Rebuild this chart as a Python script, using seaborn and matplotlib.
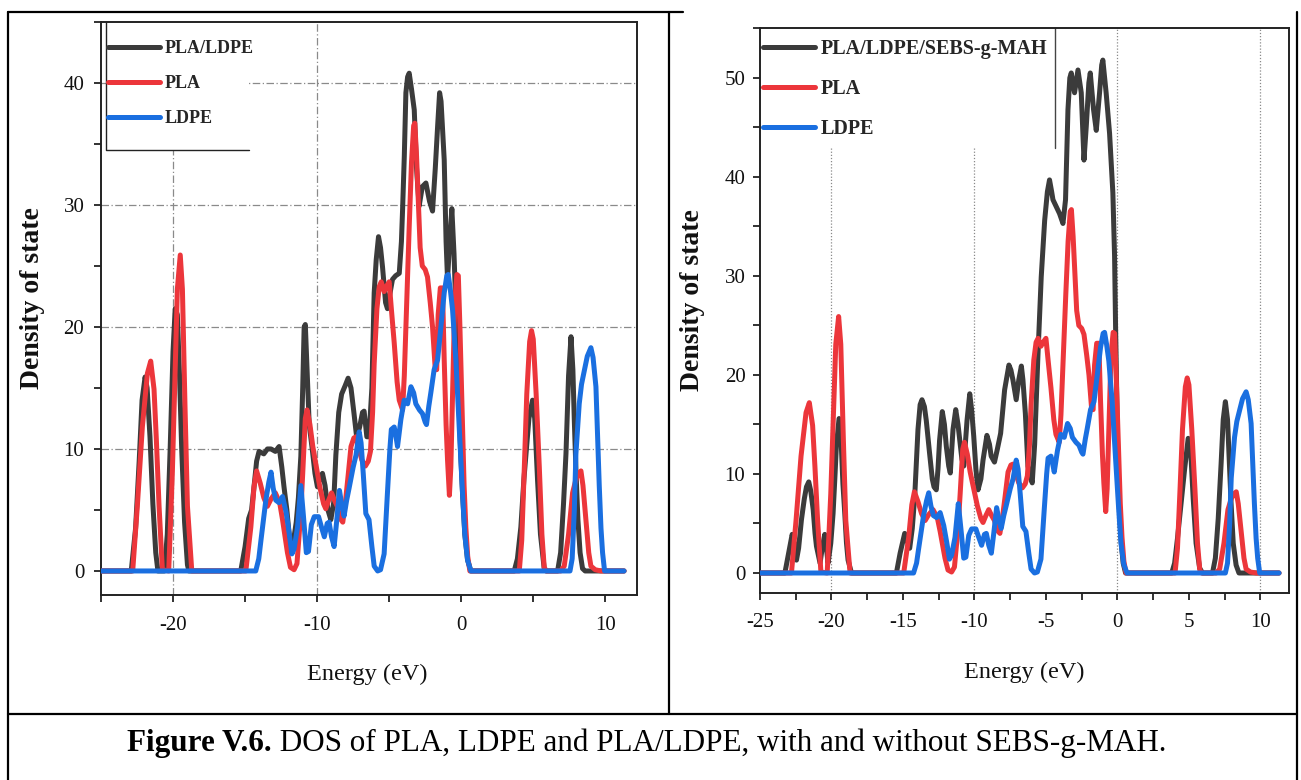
import matplotlib
matplotlib.use("Agg")
import matplotlib.pyplot as plt
from matplotlib.lines import Line2D
from matplotlib.patches import Rectangle
from matplotlib.ticker import MultipleLocator
import pandas as pd
import seaborn as sns

# ---------------------------------------------------------------- data
# Density of states, (energy in eV, DOS) pairs for each system
pla_points = [
    (-25.0, 0), (-22.8, 0), (-22.48, 5.3), (-22.13, 11.8), (-21.78, 16.2), (-21.55, 17.2),
    (-21.32, 14.9), (-21.16, 10.8), (-20.97, 5.3), (-20.74, 0.1), (-20.3, 0),
    (-20.05, 8.0), (-19.86, 16.2), (-19.7, 23.1), (-19.5, 25.9), (-19.35, 23.1),
    (-19.17, 13.5), (-19.0, 5.3), (-18.7, 0), (-14.95, 0), (-14.6, 3.6), (-14.38, 6.9),
    (-14.2, 8.2), (-13.95, 7.2), (-13.7, 6.0), (-13.45, 5.3), (-13.2, 5.9), (-12.9, 6.4),
    (-12.6, 5.6), (-12.4, 4.2), (-12.06, 1.5), (-11.85, 0.3), (-11.6, 0.1), (-11.4, 0.6),
    (-11.15, 4.5), (-11.0, 8.0), (-10.82, 12.5), (-10.7, 13.2), (-10.5, 12.0), (-10.3, 10.2),
    (-10.05, 8.5), (-9.8, 6.8), (-9.55, 5.5), (-9.4, 5.1), (-9.2, 5.8), (-9.0, 6.4),
    (-8.8, 5.8), (-8.6, 5.3), (-8.4, 4.3), (-8.22, 4.0), (-8.05, 5.5), (-7.85, 7.8),
    (-7.65, 10.2), (-7.45, 10.9), (-7.3, 11.0), (-7.1, 10.0), (-6.9, 9.1), (-6.65, 8.6),
    (-6.45, 9.0), (-6.3, 9.8), (-6.15, 13.0), (-6.04, 17.0), (-5.85, 21.5), (-5.69, 23.3),
    (-5.55, 23.7), (-5.35, 22.9), (-5.15, 23.4), (-5.0, 23.7), (-4.85, 21.5), (-4.65, 18.7),
    (-4.45, 15.5), (-4.3, 14.0), (-4.07, 13.2), (-3.95, 16.0), (-3.84, 20.0), (-3.72, 24.5),
    (-3.61, 28.2), (-3.45, 33.5), (-3.3, 36.5), (-3.22, 36.7), (-3.1, 34.0), (-3.0, 31.0),
    (-2.85, 26.5), (-2.7, 25.0), (-2.5, 24.7), (-2.34, 24.1), (-2.15, 22.0), (-1.99, 20.0),
    (-1.8, 16.5), (-1.7, 16.5), (-1.6, 21.0), (-1.45, 23.2), (-1.3, 23.2), (-1.18, 17.3),
    (-1.05, 12.0), (-0.95, 9.1), (-0.82, 6.2), (-0.72, 8.5), (-0.6, 14.6), (-0.45, 22.0),
    (-0.3, 24.3), (-0.2, 24.2), (-0.09, 20.0), (0.09, 11.8), (0.2, 7.0), (0.32, 3.6),
    (0.45, 1.2), (0.6, 0), (4.03, 0), (4.2, 2.5), (4.38, 8.5), (4.55, 14.5), (4.75, 18.8),
    (4.88, 19.7), (5.0, 19.0), (5.2, 14.5), (5.42, 8.5), (5.6, 3.0), (5.76, 0.3), (5.9, 0),
    (6.9, 0), (7.15, 0.4), (7.45, 3.0), (7.73, 6.4), (7.96, 7.5), (8.15, 8.0), (8.31, 8.2),
    (8.45, 7.0), (8.66, 4.1), (8.85, 1.5), (9.0, 0.4), (9.3, 0.1), (9.7, 0), (11.3, 0),
]

ldpe_points = [
    (-25.0, 0), (-14.26, 0), (-14.05, 1.0), (-13.9, 2.5), (-13.56, 5.8), (-13.35, 7.3),
    (-13.2, 8.1), (-13.05, 6.8), (-12.87, 5.8), (-12.65, 5.6), (-12.4, 6.1), (-12.15, 4.8),
    (-11.94, 3.1), (-11.75, 1.4), (-11.6, 1.8), (-11.36, 3.6), (-11.13, 7.0), (-10.95, 4.5),
    (-10.75, 1.5), (-10.6, 1.6), (-10.4, 3.8), (-10.2, 4.45), (-9.9, 4.45), (-9.7, 3.6),
    (-9.5, 2.8), (-9.3, 3.9), (-9.17, 4.0), (-9.0, 2.8), (-8.82, 2.0), (-8.65, 4.0),
    (-8.45, 6.6), (-8.3, 5.5), (-8.13, 4.5), (-7.95, 5.8), (-7.78, 6.8), (-7.5, 8.5),
    (-7.3, 9.5), (-7.08, 11.4), (-6.95, 10.5), (-6.8, 8.0), (-6.62, 4.7), (-6.4, 4.2),
    (-6.2, 2.0), (-6.04, 0.4), (-5.8, 0.0), (-5.6, 0.1), (-5.35, 1.4), (-5.12, 6.4),
    (-4.95, 10.0), (-4.85, 11.6), (-4.65, 11.8), (-4.5, 10.8), (-4.42, 10.2), (-4.19, 12.4),
    (-3.96, 14.0), (-3.72, 13.7), (-3.49, 15.1), (-3.3, 14.6), (-3.15, 13.7), (-2.9, 13.2),
    (-2.69, 12.9), (-2.5, 12.2), (-2.41, 12.0), (-2.25, 13.5), (-2.11, 14.6), (-1.88, 16.5),
    (-1.64, 17.3), (-1.41, 20.0), (-1.18, 22.8), (-1.0, 24.2), (-0.9, 24.3), (-0.75, 23.0),
    (-0.6, 21.4), (-0.37, 17.3), (-0.14, 11.8), (0.09, 6.4), (0.25, 3.0), (0.44, 0.9),
    (0.67, 0), (7.55, 0), (7.7, 1.0), (7.85, 5.0), (7.96, 9.6), (8.19, 13.7), (8.35, 15.3),
    (8.54, 16.4), (8.75, 17.6), (9.0, 18.3), (9.15, 17.5), (9.35, 15.1), (9.58, 7.0),
    (9.7, 3.5), (9.81, 1.5), (9.95, 0), (11.3, 0),
]

blend_points = [
    (-25.0, 0), (-22.9, 0), (-22.6, 3.5), (-22.35, 9.0), (-22.15, 14.0), (-21.94, 15.9),
    (-21.8, 15.0), (-21.6, 11.0), (-21.4, 5.5), (-21.2, 1.5), (-21.05, 0), (-20.6, 0),
    (-20.4, 3.0), (-20.2, 10.0), (-20.0, 18.0), (-19.85, 21.5), (-19.7, 21.0), (-19.55, 16.0),
    (-19.4, 10.0), (-19.2, 4.0), (-19.0, 0.5), (-18.9, 0), (-15.3, 0), (-15.0, 2.0),
    (-14.75, 4.3), (-14.55, 5.0), (-14.38, 6.9), (-14.2, 9.0), (-14.03, 9.8), (-13.7, 9.6),
    (-13.45, 10.0), (-13.2, 10.0), (-12.9, 9.8), (-12.64, 10.2), (-12.45, 8.5), (-12.3, 6.9),
    (-12.1, 5.0), (-11.94, 3.0), (-11.8, 1.6), (-11.6, 2.8), (-11.45, 4.0), (-11.3, 6.0),
    (-11.13, 9.4), (-11.0, 15.0), (-10.9, 20.0), (-10.82, 20.2), (-10.7, 16.5), (-10.55, 12.0),
    (-10.33, 9.9), (-10.15, 8.0), (-9.98, 6.9), (-9.8, 7.6), (-9.63, 8.0), (-9.45, 7.0),
    (-9.25, 5.0), (-9.05, 4.2), (-8.85, 5.6), (-8.7, 9.5), (-8.5, 13.0), (-8.3, 14.5),
    (-8.05, 15.2), (-7.85, 15.8), (-7.65, 15.0), (-7.45, 13.0), (-7.25, 10.9), (-7.05, 11.8),
    (-6.85, 13.0), (-6.74, 13.1), (-6.55, 11.0), (-6.4, 11.0), (-6.2, 15.0), (-6.04, 22.8),
    (-5.9, 25.5), (-5.74, 27.4), (-5.6, 26.5), (-5.46, 24.9), (-5.25, 22.0), (-5.12, 21.5),
    (-4.95, 22.7), (-4.77, 23.9), (-4.55, 24.2), (-4.3, 24.4), (-4.15, 27.0), (-4.07, 29.6),
    (-3.95, 34.0), (-3.84, 39.2), (-3.72, 40.5), (-3.61, 40.8), (-3.45, 39.5), (-3.26, 37.8),
    (-3.1, 33.0), (-2.92, 29.9), (-2.7, 31.5), (-2.45, 31.8), (-2.2, 30.3), (-1.99, 29.5),
    (-1.8, 33.0), (-1.64, 36.4), (-1.5, 39.2), (-1.4, 38.5), (-1.18, 33.7), (-1.05, 27.0),
    (-0.95, 23.9), (-0.8, 27.0), (-0.65, 29.7), (-0.5, 26.0), (-0.25, 17.3), (-0.05, 10.0),
    (0.09, 6.4), (0.25, 3.0), (0.44, 0.9), (0.67, 0), (3.68, 0), (3.9, 1.0), (4.14, 3.6),
    (4.35, 7.5), (4.5, 9.6), (4.7, 12.5), (4.95, 14.0), (5.1, 12.5), (5.3, 7.4), (5.5, 3.0),
    (5.76, 0.2), (5.9, 0), (6.69, 0), (6.9, 1.5), (7.1, 5.5), (7.27, 9.6), (7.45, 16.0),
    (7.62, 19.2), (7.75, 16.5), (7.85, 12.3), (7.97, 8.0), (8.1, 4.2), (8.25, 1.5),
    (8.42, 0.2), (8.6, 0), (11.3, 0),
]

blend_sebs_points = [
    (-25.0, 0), (-23.26, 0), (-23.0, 2.0), (-22.75, 3.9), (-22.6, 3.0), (-22.45, 1.3),
    (-22.3, 2.5), (-22.1, 5.4), (-21.9, 7.5), (-21.75, 8.7), (-21.59, 9.2), (-21.45, 8.3),
    (-21.28, 6.4), (-21.15, 4.0), (-21.05, 2.7), (-20.8, 1.0), (-20.65, 2.5), (-20.47, 3.9),
    (-20.35, 2.5), (-20.24, 1.0), (-20.05, 3.0), (-19.89, 6.0), (-19.75, 10.0), (-19.66, 12.8),
    (-19.47, 15.6), (-19.31, 12.8), (-19.2, 9.0), (-19.07, 6.0), (-18.95, 3.0), (-18.84, 1.3),
    (-18.6, 0), (-15.46, 0), (-15.2, 2.0), (-14.88, 4.0), (-14.7, 3.2), (-14.53, 2.5),
    (-14.35, 4.5), (-14.18, 7.7), (-13.95, 14.5), (-13.8, 17.0), (-13.67, 17.5), (-13.5, 16.8),
    (-13.37, 15.4), (-13.14, 12.1), (-12.95, 9.5), (-12.83, 8.7), (-12.67, 8.4), (-12.55, 10.5),
    (-12.44, 13.4), (-12.25, 16.3), (-12.1, 15.0), (-11.97, 12.8), (-11.8, 10.8), (-11.69, 10.1),
    (-11.5, 14.5), (-11.31, 16.5), (-11.15, 15.0), (-11.03, 13.4), (-10.88, 11.5), (-10.75, 10.8),
    (-10.52, 15.4), (-10.33, 18.1), (-10.2, 16.5), (-10.05, 13.8), (-9.9, 10.5), (-9.75, 8.4),
    (-9.55, 9.5), (-9.4, 11.4), (-9.13, 13.9), (-8.95, 13.0), (-8.83, 11.8), (-8.6, 11.2),
    (-8.4, 12.5), (-8.17, 14.1), (-7.89, 18.5), (-7.59, 21.0), (-7.45, 20.5), (-7.31, 19.5),
    (-7.08, 17.5), (-6.9, 19.5), (-6.72, 20.9), (-6.61, 19.5), (-6.44, 16.1), (-6.26, 10.8),
    (-6.14, 10.0), (-5.96, 9.1), (-5.79, 13.0), (-5.56, 22.0), (-5.33, 29.9), (-5.09, 35.6),
    (-4.9, 38.5), (-4.75, 39.7), (-4.6, 38.5), (-4.51, 37.7), (-4.28, 37.0), (-4.05, 36.3),
    (-3.81, 35.3), (-3.63, 37.7), (-3.46, 46.8), (-3.33, 50.0), (-3.23, 50.5), (-3.0, 48.5),
    (-2.76, 50.8), (-2.53, 48.5), (-2.34, 41.7), (-2.18, 45.1), (-2.0, 49.5), (-1.9, 50.5),
    (-1.67, 46.8), (-1.48, 44.7), (-1.25, 48.5), (-1.1, 51.3), (-1.02, 51.8), (-0.79, 48.5),
    (-0.55, 44.4), (-0.32, 38.4), (-0.2, 32.0), (-0.13, 24.9), (0.03, 11.4), (0.15, 6.0),
    (0.27, 3.0), (0.4, 1.0), (0.57, 0), (3.8, 0), (4.0, 1.0), (4.2, 3.5), (4.45, 7.0),
    (4.7, 10.5), (4.95, 13.6), (5.1, 13.0), (5.3, 7.5), (5.5, 3.0), (5.75, 0.5), (5.95, 0),
    (6.65, 0), (6.85, 1.5), (7.05, 5.5), (7.25, 11.0), (7.4, 15.5), (7.55, 17.3), (7.7, 15.5),
    (7.8, 12.0), (7.95, 7.0), (8.1, 3.0), (8.3, 0.8), (8.5, 0), (11.3, 0),
]

left_labels = ["PLA/LDPE", "PLA", "LDPE"]
right_labels = ["PLA/LDPE/SEBS-g-MAH", "PLA", "LDPE"]

# ---------------------------------------------------------------- style
sns.set_theme(style="ticks")
plt.rcParams["font.family"] = ["Liberation Serif", "DejaVu Serif"]
plt.rcParams["axes.unicode_minus"] = False

C_BLACK = "#3b3b3b"
C_RED = "#ec363b"
C_BLUE = "#1a6fe0"
LW = 3.6
W, H = 1301, 780


def fx(x):
    return x / W


def fy(y):
    return 1 - y / H


def frame(points):
    return pd.DataFrame(points, columns=["energy", "dos"])


fig = plt.figure(figsize=(W / 100, H / 100), dpi=100)
fig.patch.set_facecolor("white")

ax_l = fig.add_axes([fx(101), fy(595), fx(637 - 101), (595 - 21.6) / H])
ax_r = fig.add_axes([fx(760), fy(593), fx(1289 - 760), (593 - 28.4) / H])


def draw_panel(ax, blend, labels, xlim, ylim, xmajor, text_size, leg_anchor, leg_size):
    ax.set_facecolor("white")
    for pts, col in ((blend, C_BLACK), (pla_points, C_RED), (ldpe_points, C_BLUE)):
        df = frame(pts)
        sns.lineplot(data=df, x="energy", y="dos", ax=ax, color=col, linewidth=LW,
                     sort=False, estimator=None, legend=False, zorder=3)
    for ln in ax.get_lines():
        ln.set_solid_joinstyle("round")
        ln.set_solid_capstyle("round")
    ax.set_xlim(*xlim)
    ax.set_ylim(*ylim)
    ax.xaxis.set_major_locator(MultipleLocator(xmajor))
    ax.xaxis.set_minor_locator(MultipleLocator(5 if xmajor == 10 else 2.5))
    ax.yaxis.set_major_locator(MultipleLocator(10))
    ax.yaxis.set_minor_locator(MultipleLocator(5))
    ax.tick_params(which="both", direction="out", length=5, width=1.3, color="#222222")
    ax.tick_params(axis="both", labelsize=text_size, labelcolor="#111111")
    for sp in ax.spines.values():
        sp.set_visible(True)
        sp.set_linewidth(1.4)
        sp.set_color("#222222")
    ax.set_xlabel("Energy (eV)", fontsize=17.5, color="#111111")
    ax.set_ylabel("Density of state", fontsize=20, fontweight="bold", color="#111111")
    handles = [Line2D([], [], color=c, lw=LW) for c in (C_BLACK, C_RED, C_BLUE)]
    leg = ax.legend(handles, labels, loc="upper left", bbox_to_anchor=leg_anchor,
                    frameon=False, prop={"size": leg_size, "weight": "bold"},
                    handlelength=52 / (leg_size * 100 / 72), handletextpad=0.25,
                    labelspacing=1.0, borderaxespad=0, borderpad=0)
    leg.set_zorder(6)
    return ax


draw_panel(ax_l, blend_points, left_labels, (-25, 12.2), (-1.97, 45.03), 10, 15,
           (0.013, 0.968), 13)
draw_panel(ax_r, blend_sebs_points, right_labels, (-25, 12.0), (-2.02, 55.0), 5, 15,
           (0.006, 0.982), 14.5)

ax_l.tick_params(axis="x", pad=10)
ax_l.tick_params(axis="y", pad=7)
ax_r.tick_params(axis="x", pad=9.5)
ax_r.tick_params(axis="y", pad=5.5)

ax_l.yaxis.set_label_coords(-0.127, 0.518)
ax_r.yaxis.set_label_coords(-0.127, 0.519)
ax_l.xaxis.set_label_coords(0.496, -0.138)
ax_r.xaxis.set_label_coords(0.499, -0.14)
for a in (ax_l, ax_r):
    a.xaxis.label.set_va("center")
    a.yaxis.label.set_va("center")

# Grid: left panel dash-dot horizontal lines plus two vertical guides,
# right panel dotted vertical guides only
grid_kw = dict(color="#8a8a8a", lw=0.9, linestyle=(0, (6, 2, 1, 2)), zorder=1)
for yv in ax_l.get_yticks():
    if 0 < yv < 45:
        ax_l.axhline(yv, **grid_kw)
for xv in (-20, -10):
    ax_l.axvline(xv, **grid_kw)
for xv in (-20, -10, 0, 10):
    ax_r.axvline(xv, color="#8a8a8a", lw=0.9, linestyle=(0, (1, 1.5)), zorder=1)

# Legend backdrops with their partial frame lines
ax_l.add_patch(Rectangle((0.009, 0.776), 0.267, 0.224, transform=ax_l.transAxes,
                         facecolor="white", edgecolor="none", zorder=2))
ax_l.add_line(Line2D([0.009, 0.009, 0.276], [1.0, 0.776, 0.776], transform=ax_l.transAxes,
                     color="#222222", lw=1.0, zorder=2.5))
ax_r.add_patch(Rectangle((0.0, 0.788), 0.558, 0.212, transform=ax_r.transAxes,
                         facecolor="white", edgecolor="none", zorder=2))
ax_r.add_line(Line2D([0.558, 0.558], [1.0, 0.788], transform=ax_r.transAxes,
                     color="#444444", lw=1.0, zorder=2.5))

# Table borders around the two panels and the caption row
border_kw = dict(color="black", lw=1.6, transform=fig.transFigure)
fig.add_artist(Line2D([fx(8), fx(8)], [fy(12), fy(780)], **border_kw))
fig.add_artist(Line2D([fx(1297), fx(1297)], [fy(12), fy(780)], **border_kw))
fig.add_artist(Line2D([fx(8), fx(683)], [fy(12), fy(12)], **border_kw))
fig.add_artist(Line2D([fx(669), fx(669)], [fy(12), fy(714)], **border_kw))
fig.add_artist(Line2D([fx(8), fx(1297)], [fy(714), fy(714)], **border_kw))

# Caption with bold figure number
cap_y = fy(751)
t_bold = fig.text(fx(127), cap_y, "Figure V.6.", fontsize=22.4, fontweight="bold",
                  va="baseline", ha="left", color="black")
fig.canvas.draw()
bb = t_bold.get_window_extent(renderer=fig.canvas.get_renderer())
fig.text(bb.x1 / W, cap_y, " DOS of PLA, LDPE and PLA/LDPE, with and without SEBS-g-MAH.",
         fontsize=22.4, va="baseline", ha="left", color="black")

fig.savefig("out.png", dpi=100, facecolor="white")
